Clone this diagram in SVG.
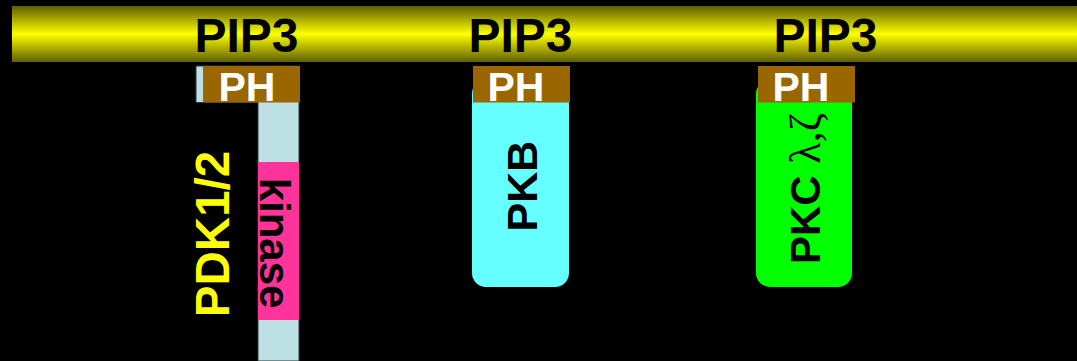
<svg xmlns="http://www.w3.org/2000/svg" width="1077" height="361" viewBox="0 0 1077 361">
  <defs>
    <linearGradient id="membrane" x1="0" y1="0" x2="0" y2="1">
      <stop offset="0" stop-color="#5e5e00"/>
      <stop offset="0.5" stop-color="#ffff00"/>
      <stop offset="1" stop-color="#5e5e00"/>
    </linearGradient>
    <style>
      .lbl { font-family: "Liberation Sans", Arial, sans-serif; font-weight: bold; }
      .pip { font-size: 48px; fill: #000; text-anchor: middle; }
      .ph-box { fill: #996600; }
      .ph { font-size: 41px; fill: #fff; text-anchor: middle; }
      .greek { font-family: "Liberation Serif", "DejaVu Serif", serif; font-weight: normal; font-size: 44px; }
    </style>
  </defs>

  <!-- background -->
  <rect x="0" y="0" width="1077" height="361" fill="#000"/>

  <!-- plasma membrane with PIP3 -->
  <g id="membrane-bar">
    <rect x="12" y="6" width="1065" height="56" fill="url(#membrane)"/>
    <text class="lbl pip" x="246.5" y="52">PIP3</text>
    <text class="lbl pip" x="520.5" y="52">PIP3</text>
    <text class="lbl pip" x="825.5" y="52">PIP3</text>
  </g>

  <!-- PDK1/2 -->
  <g id="pdk">
    <path d="M196,66 H299 V361 H258 V102.5 H196 Z" fill="#bde0e4" stroke="#2a3a3c" stroke-width="1"/>
    <rect class="ph-box" x="203" y="66" width="97" height="36.5"/>
    <text class="lbl ph" x="247" y="100.5">PH</text>
    <rect x="258" y="162" width="41" height="158" fill="#ff3399"/>
    <text class="lbl" font-size="42" fill="#000" text-anchor="middle" transform="translate(260,243) rotate(90)">kinase</text>
    <text class="lbl" font-size="47.5" fill="#ffff00" text-anchor="middle" transform="translate(229,234) rotate(-90)">PDK1/2</text>
  </g>

  <!-- PKB -->
  <g id="pkb">
    <rect x="472" y="80" width="97" height="207" rx="14" fill="#66ffff"/>
    <rect class="ph-box" x="473" y="66" width="97" height="36.5"/>
    <text class="lbl ph" x="516" y="100.5">PH</text>
    <text class="lbl" font-size="43" fill="#000" text-anchor="middle" transform="translate(537,186) rotate(-90)">PKB</text>
  </g>

  <!-- PKC lambda/zeta -->
  <g id="pkc">
    <rect x="756" y="80" width="96" height="207" rx="14" fill="#00ff00"/>
    <rect class="ph-box" x="758" y="66" width="97" height="36.5"/>
    <text class="lbl ph" x="801" y="100.5">PH</text>
    <text class="lbl" font-size="42" fill="#000" transform="translate(820,264) rotate(-90)">PKC <tspan class="greek">λ,ζ</tspan></text>
  </g>

  <g id="connectors"/>
</svg>
